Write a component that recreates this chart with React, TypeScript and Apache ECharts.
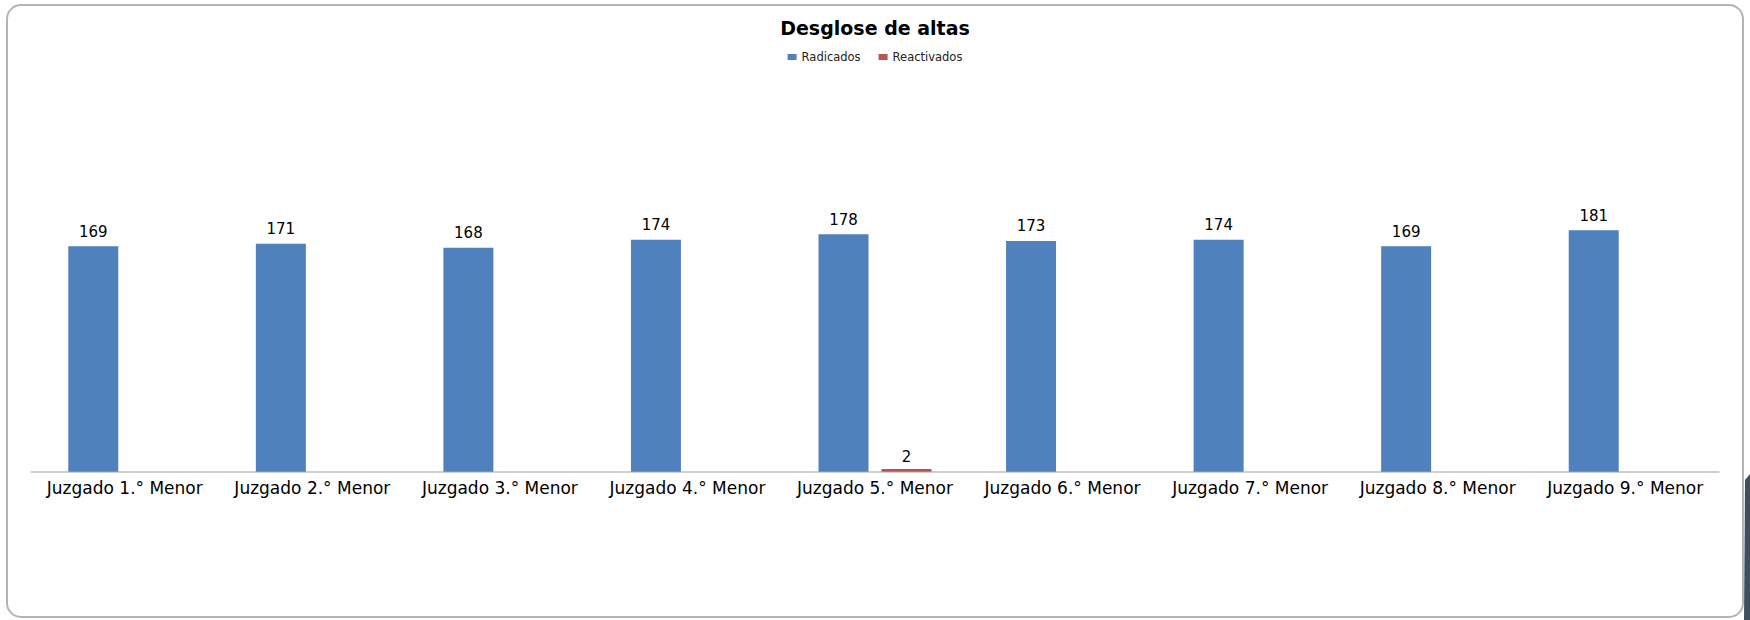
import React, { useEffect, useRef } from "react";
import * as echarts from "echarts";

const categories = [
  "Juzgado 1.° Menor",
  "Juzgado 2.° Menor",
  "Juzgado 3.° Menor",
  "Juzgado 4.° Menor",
  "Juzgado 5.° Menor",
  "Juzgado 6.° Menor",
  "Juzgado 7.° Menor",
  "Juzgado 8.° Menor",
  "Juzgado 9.° Menor",
];
const radicados = [169, 171, 168, 174, 178, 173, 174, 169, 181];
const reactivados = [null, null, null, null, 2, null, null, null, null];

const FONT = "DejaVu Sans";

export default function App() {
  const ref = useRef<HTMLDivElement>(null);
  useEffect(() => {
    if (!ref.current) return;
    const chart = echarts.init(ref.current, null, { renderer: "svg" });
    chart.setOption({
      animation: false,
      backgroundColor: "#ffffff",
      title: {
        text: "Desglose de altas",
        left: "center",
        top: 13,
        textStyle: { fontFamily: FONT, fontSize: 19, fontWeight: "bold", color: "#000" },
      },
      legend: {
        top: 46,
        left: "center",
        itemWidth: 9,
        itemHeight: 6,
        itemGap: 18,
        icon: "rect",
        textStyle: { fontFamily: FONT, fontSize: 11.5, color: "#222" },
        data: ["Radicados", "Reactivados"],
      },
      grid: { left: 31, right: 31, top: 71.6, bottom: 148.3, containLabel: false },
      xAxis: {
        type: "category",
        data: categories,
        axisLine: { lineStyle: { color: "#bfbfbf", width: 1.5 } },
        axisTick: { show: false },
        axisLabel: { fontFamily: FONT, fontSize: 17, color: "#000", margin: 8, interval: 0 },
      },
      yAxis: {
        type: "value",
        min: 0,
        max: 300,
        show: false,
        splitLine: { show: false },
      },
      graphic: [
        {
          type: "rect",
          shape: { x: 7, y: 5, width: 1736, height: 612, r: 14 },
          style: { fill: "none", stroke: "#b4b4b4", lineWidth: 2 },
          silent: true,
        },
        {
          type: "polygon",
          shape: { points: [[1745, 480], [1750, 474], [1750, 620], [1744, 620]] },
          style: { fill: "#3e4f60" },
          silent: true,
        },
      ],
      series: [
        {
          name: "Radicados",
          type: "bar",
          data: radicados,
          barWidth: 50,
          barGap: "26%",
          itemStyle: { color: "#4F81BD" },
          label: {
            show: true,
            position: "top",
            distance: 7,
            fontFamily: FONT,
            fontSize: 15,
            color: "#000",
          },
        },
        {
          name: "Reactivados",
          type: "bar",
          data: reactivados,
          barWidth: 50,
          itemStyle: { color: "#C0504D" },
          label: {
            show: true,
            position: "top",
            distance: 5,
            fontFamily: FONT,
            fontSize: 15,
            color: "#000",
          },
        },
      ],
    });
    return () => chart.dispose();
  }, []);
  return (
    <div
      ref={ref}
      style={{ position: "fixed", left: 0, top: 0, width: 1750, height: 620, background: "#fff" }}
    />
  );
}
